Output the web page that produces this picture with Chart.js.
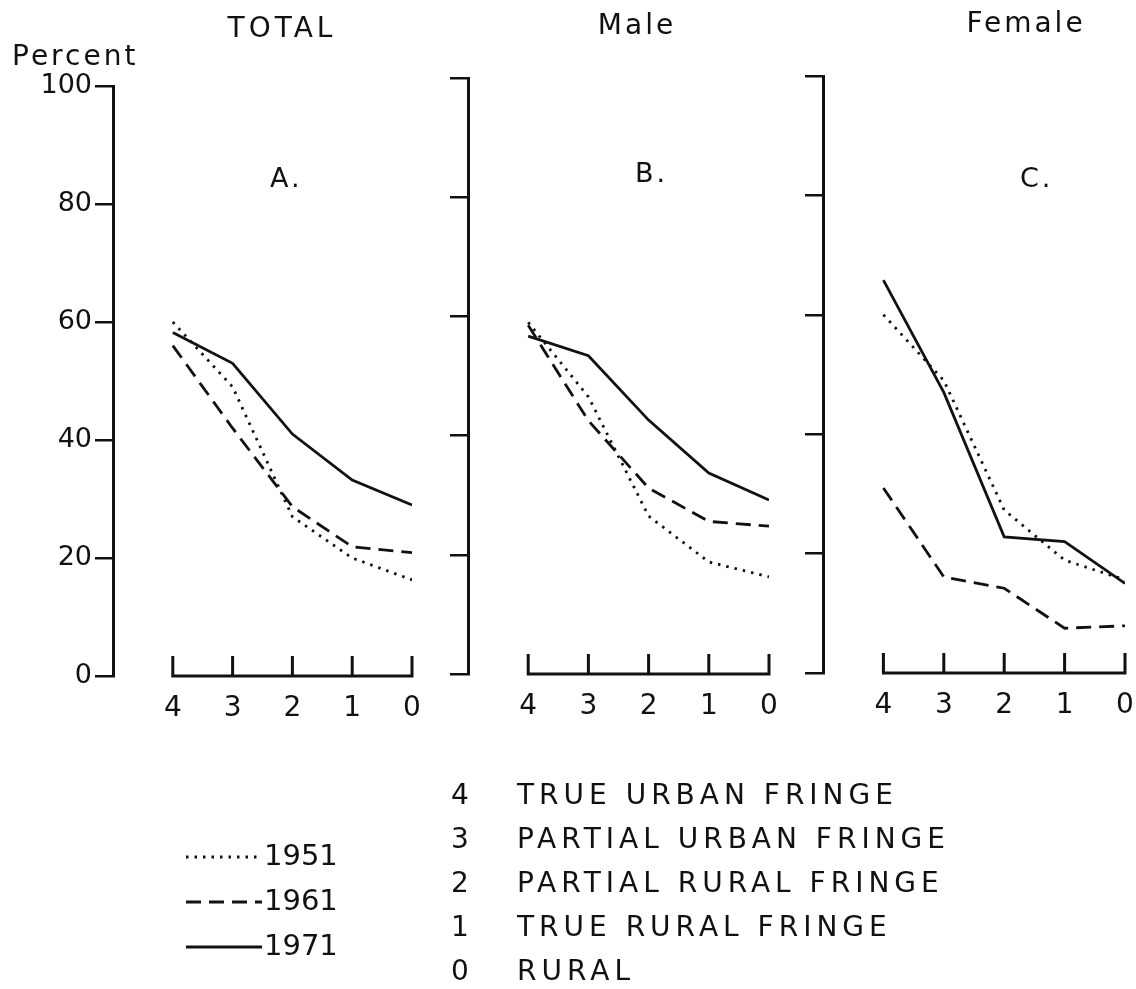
<!DOCTYPE html>
<html>
<head>
<meta charset="utf-8">
<script src="https://cdn.jsdelivr.net/npm/chart.js@4.4.0/dist/chart.umd.min.js"></script>
<style>
  body { margin: 0; background: #fff; }
  #wrap { position: relative; width: 1136px; height: 989px; }
  canvas { position: absolute; left: 0; top: 0; }
</style>
</head>
<body>
<div id="wrap">
  <canvas id="chartA" width="1136" height="989"></canvas>
  <canvas id="chartB" width="1136" height="989"></canvas>
  <canvas id="chartC" width="1136" height="989"></canvas>
</div>
<script>
// fringe zones, 4 = true urban fringe ... 0 = rural
const categories = [4, 3, 2, 1, 0];
const yTicks = [0, 20, 40, 60, 80, 100];
const years = ['1951', '1961', '1971'];

// percent values
const total1951 = [60, 49, 27, 20, 16.3];
const total1961 = [56, 42, 28.7, 21.9, 20.9];
const total1971 = [58.2, 53, 41, 33.2, 29];

const male1951 = [59, 46.5, 26.5, 18.8, 16.3];
const male1961 = [58.5, 42.5, 31.2, 25.6, 24.8];
const male1971 = [56.7, 53.4, 42.6, 33.7, 29.2];

const female1951 = [60, 49, 27.3, 18.9, 15.6];
const female1961 = [31, 16.1, 14.2, 7.5, 7.9];
const female1971 = [65.8, 47, 22.8, 22, 15];

const keyCodes = ['4', '3', '2', '1', '0'];
const keyNames = ['TRUE URBAN FRINGE', 'PARTIAL URBAN FRINGE', 'PARTIAL RURAL FRINGE', 'TRUE RURAL FRINGE', 'RURAL'];

const INK = '#111';
const FONT = '"DejaVu Sans", sans-serif';
const dashes = [[2.5, 6], [15, 8], []]; // dotted, dashed, solid

Chart.defaults.font.family = FONT;
Chart.defaults.color = INK;

function makeDatasets(series) {
    return series.map((values, i) => ({
        label: years[i],
        data: categories.map((c, j) => ({ x: c, y: values[j] })),
        borderColor: INK,
        borderWidth: 2.8,
        borderDash: dashes[i],
        pointRadius: 0,
        tension: 0,
        fill: false
    }));
}

// x axis line with upward ticks, only between the first and last zone
const xAxisLine = {
    id: 'xAxisLine',
    afterDatasetsDraw(chart) {
        const { ctx, scales: { x, y } } = chart;
        const y0 = y.getPixelForValue(0);
        ctx.save();
        ctx.strokeStyle = INK;
        ctx.lineWidth = 3;
        ctx.beginPath();
        ctx.moveTo(x.getPixelForValue(categories[0]) - 1.5, y0);
        ctx.lineTo(x.getPixelForValue(categories[categories.length - 1]) + 1.5, y0);
        categories.forEach(c => {
            const px = x.getPixelForValue(c);
            ctx.moveTo(px, y0);
            ctx.lineTo(px, y0 - 20);
        });
        ctx.stroke();
        ctx.restore();
    }
};

const panelText = {
    id: 'panelText',
    afterDraw(chart, args, opts) {
        const { ctx } = chart;
        ctx.save();
        ctx.fillStyle = INK;
        ctx.textBaseline = 'middle';
        (opts.items || []).forEach(t => {
            ctx.font = t.size + 'px ' + FONT;
            ctx.letterSpacing = (t.spacing || 0) + 'px';
            ctx.textAlign = t.align || 'left';
            ctx.fillText(t.text, t.x, t.y);
        });
        ctx.restore();
    }
};

// year legend and zone key under the panels
const fringeKey = {
    id: 'fringeKey',
    afterDraw(chart) {
        const { ctx } = chart;
        ctx.save();
        ctx.fillStyle = INK;
        ctx.strokeStyle = INK;
        ctx.textBaseline = 'middle';
        ctx.font = '29px ' + FONT;
        chart.data.datasets.forEach((ds, i) => {
            const yy = 857 + i * 45;
            ctx.lineWidth = 2.8;
            ctx.setLineDash(ds.borderDash);
            ctx.beginPath();
            ctx.moveTo(186, yy);
            ctx.lineTo(262, yy);
            ctx.stroke();
            ctx.textAlign = 'left';
            ctx.fillText(ds.label, 264, yy);
        });
        ctx.setLineDash([]);
        ctx.font = '28px ' + FONT;
        keyCodes.forEach((code, i) => {
            const yy = 797 + i * 44;
            ctx.letterSpacing = '0px';
            ctx.textAlign = 'center';
            ctx.fillText(code, 460, yy);
            ctx.letterSpacing = '5px';
            ctx.textAlign = 'left';
            ctx.fillText(keyNames[i], 517, yy);
        });
        ctx.restore();
    }
};

function makeConfig(series, padding, yWidth, showYLabels, items, extraPlugins) {
    return {
        type: 'line',
        data: { datasets: makeDatasets(series) },
        options: {
            responsive: false,
            animation: false,
            events: [],
            layout: { padding: padding },
            plugins: {
                legend: { display: false },
                title: { display: false },
                tooltip: { enabled: false },
                panelText: { items: items }
            },
            scales: {
                x: {
                    type: 'linear',
                    min: 0,
                    max: 5,
                    reverse: true,
                    afterBuildTicks: s => { s.ticks = categories.map(v => ({ value: v })); },
                    ticks: { font: { size: 28 }, color: INK, padding: 16, autoSkip: false, maxRotation: 0 },
                    grid: { display: false, drawTicks: false },
                    border: { display: false },
                    afterFit: s => { s.height = 60; s.paddingLeft = 0; s.paddingRight = 0; }
                },
                y: {
                    min: 0,
                    max: 100,
                    afterBuildTicks: s => { s.ticks = yTicks.map(v => ({ value: v })); },
                    ticks: {
                        font: { size: 27 },
                        color: INK,
                        padding: 3,
                        callback: v => showYLabels ? v : ''
                    },
                    grid: { drawOnChartArea: false, tickLength: 18, color: INK, lineWidth: 2.5 },
                    border: { color: INK, width: 3 },
                    afterFit: s => { s.width = yWidth; }
                }
            }
        },
        plugins: [xAxisLine, panelText].concat(extraPlugins || [])
    };
}

new Chart(document.getElementById('chartA'), makeConfig(
    [total1951, total1961, total1971],
    { left: 0, top: 86, right: 724, bottom: 253 }, 113, true,
    [
        { text: 'TOTAL', x: 282, y: 30, size: 28, spacing: 4, align: 'center' },
        { text: 'Percent', x: 12, y: 58, size: 28, spacing: 3 },
        { text: 'A.', x: 270, y: 180, size: 27, spacing: 3 }
    ],
    [fringeKey]
));

new Chart(document.getElementById('chartB'), makeConfig(
    [male1951, male1961, male1971],
    { left: 438, top: 78, right: 367, bottom: 255 }, 30, false,
    [
        { text: 'Male', x: 637, y: 27, size: 28, spacing: 3, align: 'center' },
        { text: 'B.', x: 635, y: 175, size: 27, spacing: 3 }
    ]
));

new Chart(document.getElementById('chartC'), makeConfig(
    [female1951, female1961, female1971],
    { left: 793, top: 76, right: 11, bottom: 256 }, 30, false,
    [
        { text: 'Female', x: 1026, y: 25, size: 28, spacing: 3, align: 'center' },
        { text: 'C.', x: 1020, y: 180, size: 27, spacing: 3 }
    ]
));
</script>
</body>
</html>
